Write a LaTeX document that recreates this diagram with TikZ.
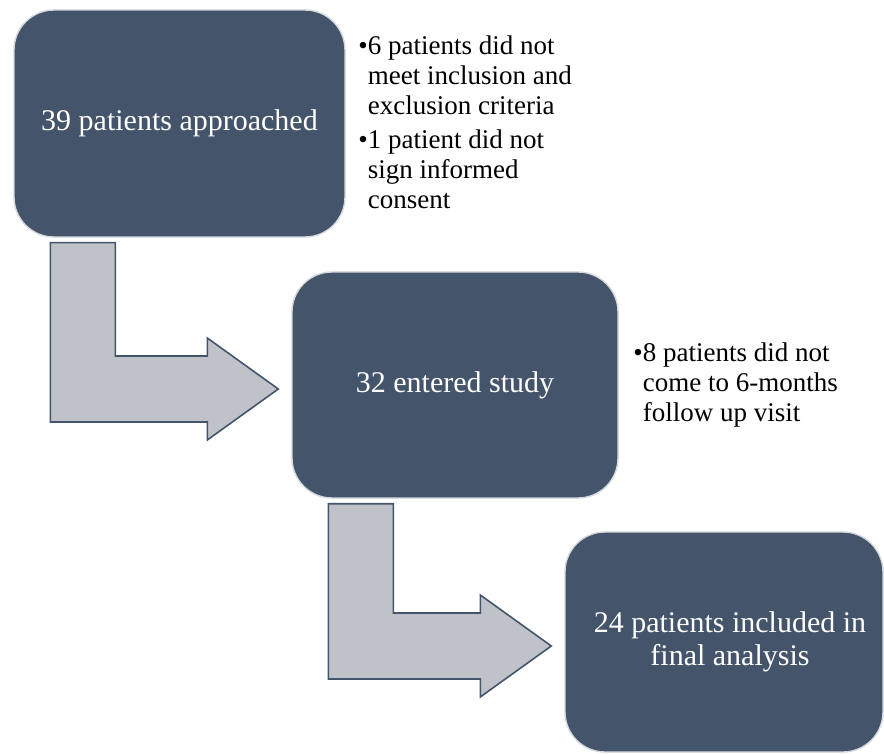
\documentclass[tikz,border=0pt]{standalone}
\usepackage{fontspec}
\setmainfont{Liberation Serif}
\usetikzlibrary{calc}

\definecolor{slate}{HTML}{44546A}
\definecolor{arrowgray}{HTML}{BFC2C8}
\definecolor{rim}{HTML}{D4D7DC}

\begin{document}
\begin{tikzpicture}
[x=0.5pt,y=-0.5pt,
stage/.style={rectangle,rounded corners=20pt,draw=rim,line width=0.7pt,fill=slate,text=white,align=center,inner sep=0pt,font=\fontsize{15}{17.5}\selectfont},
note/.style={anchor=base west,inner sep=0pt,align=left,font=\fontsize{13.5}{15}\selectfont},
elbowarrow/.style={draw=slate,fill=arrowgray,line width=0.8pt,line join=miter}]

\useasboundingbox (0,0) rectangle (884,754);

\def \stemOffset {37}
\def \stemWidth {65}
\def \barHalf {33}
\def \headHalf {51}
\def \headLength {71}

% Drawing stages
\node[stage,minimum width=165.5pt,minimum height=113.5pt] (approached) at (179.5,123.5) {39 patients approached};
\node[stage,minimum width=163pt,minimum height=113pt] (entered) at (455,385) {32 entered study};
\node[stage,minimum width=159pt,minimum height=110pt] (final) at (724,642) {\hspace{6pt}24 patients included in\\[-1pt]\hspace{6pt}final analysis};

% Drawing notes
\node[note] (excluded) at (358,55) {\begin{tabular}[t]{@{}l@{}l@{}}
\textbullet & 6 patients did not\\
 & meet inclusion and\\
 & exclusion criteria\\[2pt]
\textbullet & 1 patient did not\\
 & sign informed\\
 & consent
\end{tabular}};
\node[note] (lost) at (633,362) {\begin{tabular}[t]{@{}l@{}l@{}}
\textbullet & 8 patients did not\\
 & come to 6-months\\
 & follow up visit
\end{tabular}};

% Drawing bent arrows
\foreach \from/\to in {approached/entered,entered/final} {
	\coordinate (sl) at ($(\from.south west)+(\stemOffset,5)$);
	\coordinate (sr) at ($(sl)+(\stemWidth,0)$);
	\coordinate (tip) at ($(\to.west)+(-13,4)$);
	\coordinate (hb) at ($(tip)+(-\headLength,0)$);
	\coordinate (bt) at ($(tip)+(0,-\barHalf)$);
	\coordinate (bb) at ($(tip)+(0,\barHalf)$);
	\coordinate (ht) at ($(hb)+(0,-\headHalf)$);
	\coordinate (hd) at ($(hb)+(0,\headHalf)$);
	\draw[elbowarrow] (sl) -- (sr) -- (sr |- bt) -- (hb |- bt) -- (ht) -- (tip) -- (hd) -- (hb |- bb) -- (sl |- bb) -- cycle;
}
\end{tikzpicture}
\end{document}
